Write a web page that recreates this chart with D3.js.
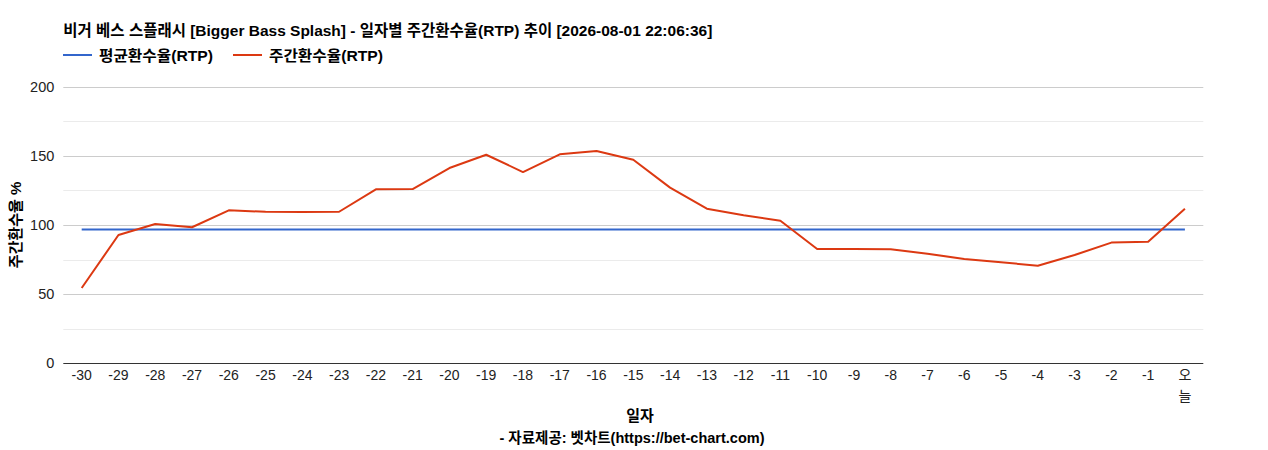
<!DOCTYPE html>
<html>
<head>
<meta charset="utf-8">
<script src="https://cdn.jsdelivr.net/npm/d3@7/dist/d3.min.js"></script>
<style>
  body { margin: 0; background: #fff; }
  svg text { font-family: "Liberation Sans", Arial, "Noto Sans CJK KR", sans-serif; }
</style>
</head>
<body>
<div id="chart"></div>
<script>
var days = ["-30","-29","-28","-27","-26","-25","-24","-23","-22","-21","-20","-19","-18","-17","-16",
            "-15","-14","-13","-12","-11","-10","-9","-8","-7","-6","-5","-4","-3","-2","-1","오늘"];
var weeklyRtp = [54.4, 92.7, 100.6, 98.3, 110.5, 109.5, 109.3, 109.5, 125.7, 125.9, 141.1, 150.7, 138.2, 151.0, 153.4,
                 147.1, 126.9, 111.7, 106.9, 103.0, 82.6, 82.6, 82.4, 79.2, 75.4, 73.0, 70.5, 78.2, 87.2, 87.9, 111.7];
var avgRtp = 96.7;
var yTicks = [0, 50, 100, 150, 200];
var yMinor = [25, 75, 125, 175];
var seriesNames = ["평균환수율(RTP)", "주간환수율(RTP)"];
var colors = ["#3366cc", "#dc3912"];

var width = 1268, height = 450;
var plotLeft = 63.3, plotRight = 1203.3, plotTop = 86.5, plotBottom = 363.3;

var svg = d3.select("#chart").append("svg")
    .attr("width", width)
    .attr("height", height);

var xScale = d3.scaleBand().domain(days).range([plotLeft, plotRight]);
var yScale = d3.scaleLinear().domain([0, 200]).range([plotBottom, plotTop]);
var cx = function(d) { return xScale(d) + xScale.bandwidth() / 2; };

// 타이틀
svg.append("text")
    .attr("x", plotLeft).attr("y", 36)
    .attr("font-size", 15.5).attr("font-weight", "bold").attr("fill", "#000")
    .attr("textLength", 649).attr("lengthAdjust", "spacingAndGlyphs")
    .text("비거 베스 스플래시 [Bigger Bass Splash] - 일자별 주간환수율(RTP) 추이 [2026-08-01 22:06:36]");

// 범례
var legendX = [63, 233];
seriesNames.forEach(function(name, i) {
    svg.append("line")
        .attr("x1", legendX[i]).attr("x2", legendX[i] + 29)
        .attr("y1", 55).attr("y2", 55)
        .attr("stroke", colors[i]).attr("stroke-width", 2);
    svg.append("text")
        .attr("x", legendX[i] + 36).attr("y", 60.5)
        .attr("font-size", 15).attr("font-weight", "bold")
        .attr("textLength", 114).attr("lengthAdjust", "spacingAndGlyphs")
        .text(name);
});

// 보조 격자
svg.selectAll(".minor").data(yMinor).enter().append("line")
    .attr("x1", plotLeft).attr("x2", plotRight)
    .attr("y1", function(d) { return Math.round(yScale(d)) + 0.5; })
    .attr("y2", function(d) { return Math.round(yScale(d)) + 0.5; })
    .attr("stroke", "#ebebeb");

// 주 격자
svg.selectAll(".major").data(yTicks.slice(1)).enter().append("line")
    .attr("x1", plotLeft).attr("x2", plotRight)
    .attr("y1", function(d) { return Math.round(yScale(d)) + 0.5; })
    .attr("y2", function(d) { return Math.round(yScale(d)) + 0.5; })
    .attr("stroke", "#cccccc");

// y축
var yAxis = d3.axisLeft(yScale).tickValues(yTicks).tickSize(0).tickPadding(9);
var gy = svg.append("g").attr("transform", "translate(" + plotLeft + ",0)").call(yAxis);
gy.select(".domain").remove();
gy.selectAll("text").attr("font-size", 14.5).attr("fill", "#222")
    .attr("font-family", "Liberation Sans, Arial, sans-serif");

svg.append("text")
    .attr("transform", "translate(21," + ((plotTop + plotBottom) / 2) + ") rotate(-90)")
    .attr("text-anchor", "middle")
    .attr("font-size", 15).attr("font-weight", "bold")
    .text("주간환수율 %");

// x축
var xAxis = d3.axisBottom(xScale).tickSize(0).tickPadding(7);
var gx = svg.append("g").attr("transform", "translate(0," + plotBottom + ")").call(xAxis);
gx.select(".domain").remove();
gx.selectAll("text").attr("font-size", 14).attr("fill", "#222")
    .attr("font-family", "Liberation Sans, Arial, \"Noto Sans CJK KR\", sans-serif")
    .each(function(d) {
        if (d === "오늘") {
            var t = d3.select(this).text("");
            t.append("tspan").attr("x", 0).attr("dy", "0.71em").text("오");
            t.append("tspan").attr("x", 0).attr("dy", "1.45em").text("늘");
            t.attr("dy", null);
        }
    });

svg.append("line")
    .attr("x1", plotLeft).attr("x2", plotRight)
    .attr("y1", Math.round(plotBottom) + 0.5).attr("y2", Math.round(plotBottom) + 0.5)
    .attr("stroke", "#333");

svg.append("text")
    .attr("x", 640).attr("y", 421)
    .attr("text-anchor", "middle")
    .attr("font-size", 15).attr("font-weight", "bold")
    .text("일자");

svg.append("text")
    .attr("x", 632).attr("y", 443)
    .attr("text-anchor", "middle")
    .attr("font-size", 14.5).attr("font-weight", "bold")
    .text("- 자료제공: 벳차트(https://bet-chart.com)");

// 평균선
svg.append("path")
    .datum(days)
    .attr("fill", "none")
    .attr("stroke", colors[0]).attr("stroke-width", 2)
    .attr("d", d3.line().x(cx).y(yScale(avgRtp)));

// 주간선
svg.append("path")
    .datum(weeklyRtp)
    .attr("fill", "none")
    .attr("stroke", colors[1]).attr("stroke-width", 2)
    .attr("stroke-linejoin", "round")
    .attr("d", d3.line()
        .x(function(d, i) { return cx(days[i]); })
        .y(function(d) { return yScale(d); }));
</script>
</body>
</html>
